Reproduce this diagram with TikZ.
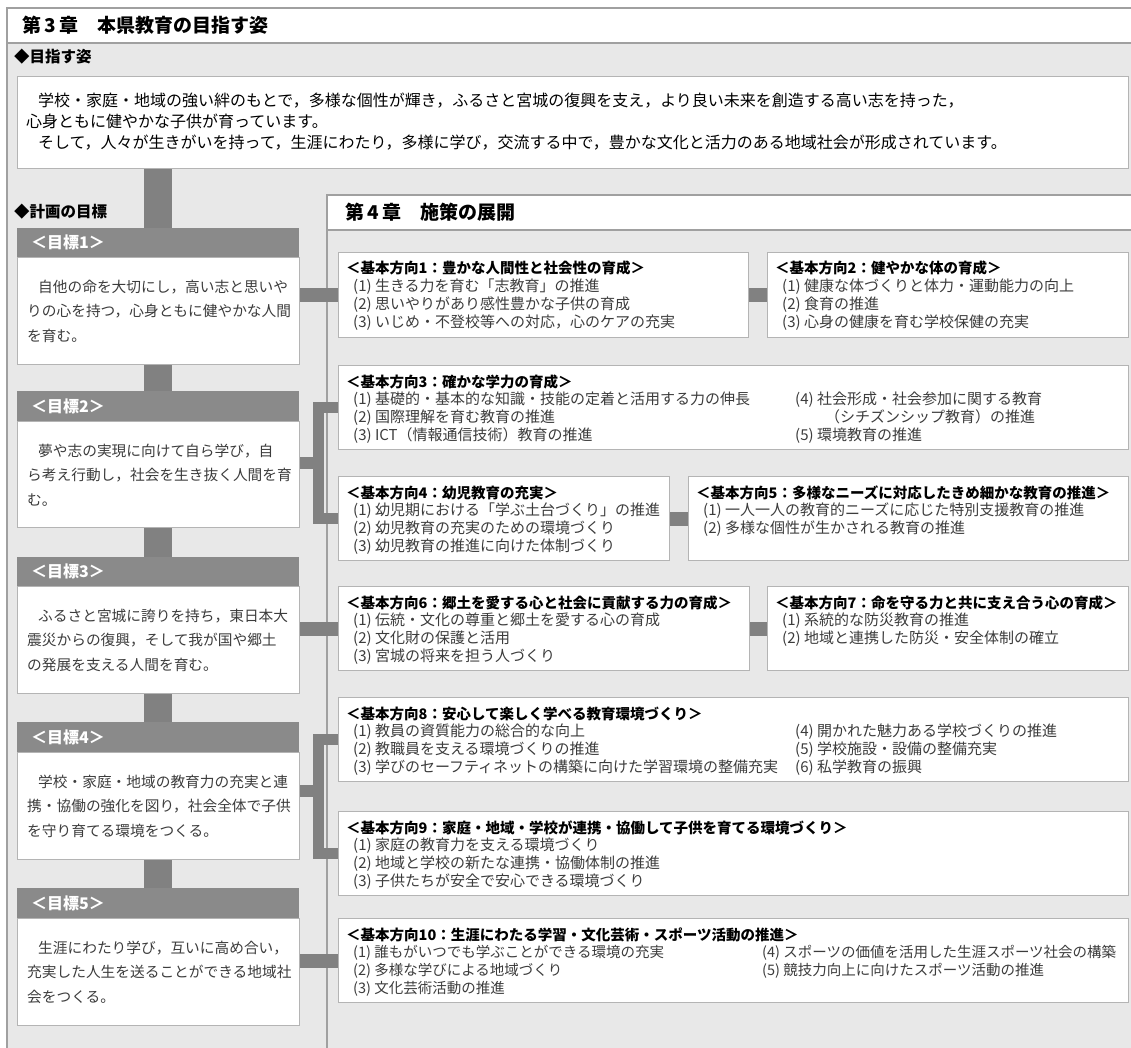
\documentclass[tikz,border=0pt]{standalone}
\usepackage{fontspec}
\setmainfont{Noto Sans CJK JP}
\definecolor{bgray}{HTML}{E8E8E8}
\definecolor{hgray}{HTML}{8A8A8A}
\definecolor{cgray}{HTML}{818181}
\definecolor{lgray}{HTML}{B4B4B4}
\definecolor{fgray}{HTML}{A0A0A0}
\definecolor{itemgray}{HTML}{3C3C3C}
\tikzset{
  wbox/.style={draw=lgray, line width=1.2pt, fill=white, inner sep=0pt, anchor=north west},
  ghead/.style={fill=hgray, inner sep=0pt, anchor=north west, minimum width=282pt},
  gbody/.style={wbox, minimum width=282pt},
  ghtext/.style={anchor=west, inner sep=0pt, text=white, font=\fontsize{16}{18}\selectfont\bfseries},
  gtext/.style={anchor=base west, inner sep=0pt, text=itemgray, font=\fontsize{14.7}{18}\selectfont},
  vtext/.style={anchor=base west, inner sep=0pt, text=black, font=\fontsize{16}{18}\selectfont},
  chap/.style={anchor=base west, inner sep=0pt, font=\fontsize{19}{21}\selectfont\bfseries},
  sect/.style={anchor=base west, inner sep=0pt, font=\fontsize{15.5}{18}\selectfont\bfseries},
  dtitle/.style={anchor=base west, inner sep=0pt, font=\fontsize{14.5}{18}\selectfont\bfseries},
  ditem/.style={anchor=base west, inner sep=0pt, text=itemgray, font=\fontsize{15}{18}\selectfont},
  ditemc/.style={ditem, font=\fontsize{14.5}{18}\selectfont},
  conn/.style={draw=cgray, line width=14pt},
  vlink/.style={draw=cgray, line width=28pt},
  brk/.style={draw=cgray, line width=11pt, line join=miter},
  feed/.style={draw=cgray, line width=12pt},
}
\newcommand\goaltext[4]{%
  \node[gtext] (#1-1) at ([xshift=21pt,yshift=-35pt]#1.north west) {#2};
  \node[gtext] (#1-2) at ([xshift=10pt,yshift=-59.5pt]#1.north west) {#3};
  \node[gtext] (#1-3) at ([xshift=10pt,yshift=-84pt]#1.north west) {#4};}
\newcommand\ditems[4][ditem]{%
  \foreach \t [count=\i] in {#4} {%
    \node[#1] (#2-#3-\i) at ([xshift=#3pt,yshift={-(39.8+17.8*(\i-1))*1pt}]#2.north west) {\t};}}
\newcommand\dtitle[2]{%
  \node[dtitle] (#1-t) at ([xshift=8pt,yshift=-22pt]#1.north west) {#2};}
\begin{document}
\begin{tikzpicture}[x=1pt,y=-1pt]
\useasboundingbox (0,0) rectangle (1131,1048);
\fill[white] (0,0) rectangle (1131,1048);
\fill[bgray] (7,43) rectangle (1131,1048);
\draw[fgray, line width=2pt] (7,1048) -- (7,8) -- (1131,8);
\draw[fgray, line width=2pt] (7,43) -- (1131,43);
\node[chap] (t3) at (22,33) {第\,3\,章　本県教育の目指す姿};
\node[sect] (s1) at (14,63) {◆目指す姿};
% vision
\node[wbox, minimum width=1111pt, minimum height=92pt] (vision) at (17,76) {};
\node[vtext] (v1) at (38,107) {学校・家庭・地域の強い絆のもとで，多様な個性が輝き，ふるさと宮城の復興を支え，より良い未来を創造する高い志を持った，};
\node[vtext] (v2) at (26,128) {心身ともに健やかな子供が育っています。};
\node[vtext] (v3) at (38,149) {そして，人々が生きがいを持って，生涯にわたり，多様に学び，交流する中で，豊かな文化と活力のある地域社会が形成されています。};
% chapter 4 frame
\fill[white] (327,195) rectangle (1131,230);
\draw[fgray, line width=2pt] (327,230) -- (1131,230);
\draw[fgray, line width=1.8pt] (327,1048) -- (327,195) -- (1131,195);
\node[chap] (t4) at (345,220) {第\,4\,章　施策の展開};
\node[sect] (s2) at (14,218) {◆計画の目標};
% goals
\node[ghead, minimum height=29pt] (g1h) at (17,228) {};
\node[gbody, minimum height=107pt] (g1b) at (17,257) {};
\node[ghead, minimum height=30pt] (g2h) at (17,391) {};
\node[gbody, minimum height=106pt] (g2b) at (17,421) {};
\node[ghead, minimum height=29pt] (g3h) at (17,557) {};
\node[gbody, minimum height=107pt] (g3b) at (17,586) {};
\node[ghead, minimum height=30pt] (g4h) at (17,722) {};
\node[gbody, minimum height=107pt] (g4b) at (17,752) {};
\node[ghead, minimum height=30pt] (g5h) at (17,888) {};
\node[gbody, minimum height=107pt] (g5b) at (17,918) {};
\foreach \g/\n in {g1h/1,g2h/2,g3h/3,g4h/4,g5h/5}
  \node[ghtext] (\g-t) at ([xshift=14pt]\g.west) {＜目標\n＞};
\goaltext{g1b}{自他の命を大切にし，高い志と思いや}{りの心を持つ，心身ともに健やかな人間}{を育む。}
\goaltext{g2b}{夢や志の実現に向けて自ら学び，自}{ら考え行動し，社会を生き抜く人間を育}{む。}
\goaltext{g3b}{ふるさと宮城に誇りを持ち，東日本大}{震災からの復興，そして我が国や郷土}{の発展を支える人間を育む。}
\goaltext{g4b}{学校・家庭・地域の教育力の充実と連}{携・協働の強化を図り，社会全体で子供}{を守り育てる環境をつくる。}
\goaltext{g5b}{生涯にわたり学び，互いに高め合い，}{充実した人生を送ることができる地域社}{会をつくる。}
% direction boxes
\node[wbox, minimum width=410pt, minimum height=85pt] (d1) at (338,252) {};
\node[wbox, minimum width=361pt, minimum height=85pt] (d2) at (767,252) {};
\node[wbox, minimum width=790pt, minimum height=84pt] (d3) at (338,365) {};
\node[wbox, minimum width=331pt, minimum height=84pt] (d4) at (338,476) {};
\node[wbox, minimum width=440pt, minimum height=84pt] (d5) at (688,476) {};
\node[wbox, minimum width=411pt, minimum height=84pt] (d6) at (338,586) {};
\node[wbox, minimum width=361pt, minimum height=84pt] (d7) at (767,586) {};
\node[wbox, minimum width=790pt, minimum height=84pt] (d8) at (338,697) {};
\node[wbox, minimum width=790pt, minimum height=84pt] (d9) at (338,811) {};
\node[wbox, minimum width=790pt, minimum height=84pt] (d10) at (338,918) {};
\dtitle{d1}{＜基本方向1：豊かな人間性と社会性の育成＞}
\ditems{d1}{15}{(1) 生きる力を育む「志教育」の推進,(2) 思いやりがあり感性豊かな子供の育成,(3) いじめ・不登校等への対応，心のケアの充実}
\dtitle{d2}{＜基本方向2：健やかな体の育成＞}
\ditems{d2}{15}{(1) 健康な体づくりと体力・運動能力の向上,(2) 食育の推進,(3) 心身の健康を育む学校保健の充実}
\dtitle{d3}{＜基本方向3：確かな学力の育成＞}
\ditems{d3}{15}{(1) 基礎的・基本的な知識・技能の定着と活用する力の伸長,(2) 国際理解を育む教育の推進,(3) ICT（情報通信技術）教育の推進}
\ditems{d3}{457}{(4) 社会形成・社会参加に関する教育,\hspace{30pt}（シチズンシップ教育）の推進,(5) 環境教育の推進}
\dtitle{d4}{＜基本方向4：幼児教育の充実＞}
\ditems{d4}{15}{(1) 幼児期における「学ぶ土台づくり」の推進,(2) 幼児教育の充実のための環境づくり,(3) 幼児教育の推進に向けた体制づくり}
\dtitle{d5}{＜基本方向5：多様なニーズに対応したきめ細かな教育の推進＞}
\ditems{d5}{15}{(1) 一人一人の教育的ニーズに応じた特別支援教育の推進,(2) 多様な個性が生かされる教育の推進}
\dtitle{d6}{＜基本方向6：郷土を愛する心と社会に貢献する力の育成＞}
\ditems{d6}{15}{(1) 伝統・文化の尊重と郷土を愛する心の育成,(2) 文化財の保護と活用,(3) 宮城の将来を担う人づくり}
\dtitle{d7}{＜基本方向7：命を守る力と共に支え合う心の育成＞}
\ditems{d7}{15}{(1) 系統的な防災教育の推進,(2) 地域と連携した防災・安全体制の確立}
\dtitle{d8}{＜基本方向8：安心して楽しく学べる教育環境づくり＞}
\ditems{d8}{15}{(1) 教員の資質能力の総合的な向上,(2) 教職員を支える環境づくりの推進,(3) 学びのセーフティネットの構築に向けた学習環境の整備充実}
\ditems{d8}{457}{(4) 開かれた魅力ある学校づくりの推進,(5) 学校施設・設備の整備充実,(6) 私学教育の振興}
\dtitle{d9}{＜基本方向9：家庭・地域・学校が連携・協働して子供を育てる環境づくり＞}
\ditems{d9}{15}{(1) 家庭の教育力を支える環境づくり,(2) 地域と学校の新たな連携・協働体制の推進,(3) 子供たちが安全で安心できる環境づくり}
\dtitle{d10}{＜基本方向10：生涯にわたる学習・文化芸術・スポーツ活動の推進＞}
\ditems[ditemc]{d10}{15}{(1) 誰もがいつでも学ぶことができる環境の充実,(2) 多様な学びによる地域づくり,(3) 文化芸術活動の推進}
\ditems[ditemc]{d10}{424}{(4) スポーツの価値を活用した生涯スポーツ社会の構築,(5) 競技力向上に向けたスポーツ活動の推進}
% connectors
\coordinate (vx) at (158,0);
\draw[vlink] (vision.south -| vx) -- (g1h.north -| vx);
\draw[vlink] (g1b.south -| vx) -- (g2h.north -| vx);
\draw[vlink] (g2b.south -| vx) -- (g3h.north -| vx);
\draw[vlink] (g3b.south -| vx) -- (g4h.north -| vx);
\draw[vlink] (g4b.south -| vx) -- (g5h.north -| vx);
\draw[conn] (d1.west -| g1b.east) -- (d1.west);
\draw[conn] (d1.east) -- (d2.west);
\coordinate (b2) at (318,463);
\draw[feed] (g2b.east |- b2) -- (b2);
\draw[brk] (d3.west) -| (b2) |- (d4.west);
\draw[conn] (d4.east) -- (d5.west);
\draw[conn] (d6.west -| g3b.east) -- (d6.west);
\draw[conn] (d6.east) -- (d7.west);
\coordinate (b4) at (318,791);
\draw[feed] (g4b.east |- b4) -- (b4);
\draw[brk] (d8.west) -| (b4) |- (d9.west);
\draw[conn] (d10.west -| g5b.east) -- (d10.west);
\end{tikzpicture}
\end{document}
